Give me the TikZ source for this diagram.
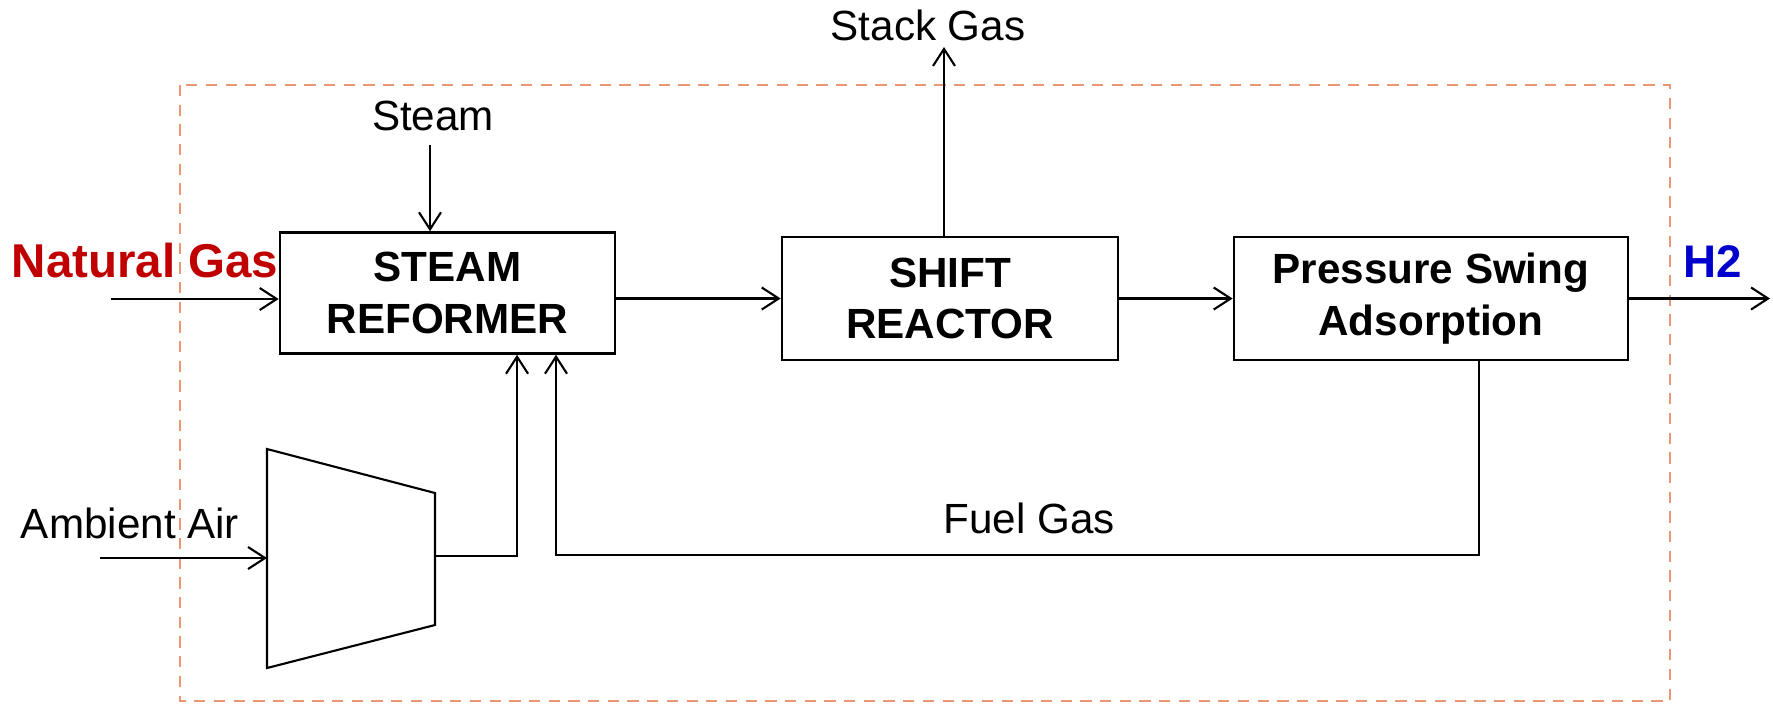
\documentclass[tikz,border=0pt]{standalone}
\usepackage{fontspec}
\setmainfont{Liberation Sans}
\usetikzlibrary{arrows.meta}
\definecolor{boundary}{RGB}{233,152,115}
\definecolor{feedred}{RGB}{192,0,0}
\definecolor{productblue}{RGB}{0,0,204}

\begin{document}
\begin{tikzpicture}[x=0.01cm,y=-0.01cm,
  unit/.style={draw,line width=.7pt,inner sep=0pt,align=center,
    font=\fontsize{12}{14.7}\selectfont\bfseries},
  stream/.style={inner sep=0pt,font=\fontsize{12}{14}\selectfont},
  feed/.style={inner sep=0pt,font=\fontsize{13.5}{16}\selectfont\bfseries},
  flow/.style={line width=.6pt,-{Straight Barb[length=1.7mm,width=2.2mm]}}]
  \useasboundingbox (0,0) rectangle (1773,705);
  % battery limit
  \draw[boundary,line width=.8pt,dash pattern=on 3.2pt off 2.4pt] (180,85) rectangle (1670,701);
  %
  \node[unit,minimum width=3.35cm,minimum height=1.21cm] (sr) at (447.5,293) {STEAM\\REFORMER};
  \node[unit,minimum width=3.36cm,minimum height=1.23cm] (shift) at (950,298.5) {SHIFT\\REACTOR};
  \node[unit,minimum width=3.94cm,minimum height=1.23cm] (psa) at (1431,298.5) {Pressure Swing\\Adsorption};
  % air compressor
  \draw[line width=.6pt] (267,449) -- (435,493) -- (435,625) -- (267,668) -- cycle;
  \coordinate (compin) at (267,558);
  \coordinate (compout) at (435,556);
  %
  \node[feed,text=feedred] (ng) at (145,261) {Natural Gas};
  \node[feed,font=\fontsize{13}{16}\selectfont\bfseries,text=productblue] (h2) at (1713,262) {H2};
  \node[stream] (steam) at (433,116) {Steam};
  \node[stream] (stack) at (928,25) {Stack Gas};
  \node[stream] (air) at (130,523) {Ambient Air};
  \node[stream] (fuel) at (1029,518) {Fuel Gas};
  %
  \coordinate (ngin) at (111,299);
  \coordinate (steamin) at (430,145);
  \coordinate (stackout) at (944,47);
  \coordinate (h2out) at (1770,298.5);
  \coordinate (airin) at (100,558);
  \coordinate (fuelcorner) at (556,555);
  %
  \draw[flow] (ngin) -- (ngin -| sr.west);
  \draw[flow] (steamin) -- (steamin |- sr.north);
  \draw[flow] (sr.east |- shift.west) -- (shift.west);
  \draw[flow] (shift.east) -- (psa.west);
  \draw[flow] (psa.east) -- (h2out);
  \draw[flow] (stackout |- shift.north) -- (stackout);
  \draw[flow] (airin) -- (compin);
  \draw[flow] (compout) -| ([xshift=.695cm]sr.south);
  \draw[flow] ([xshift=.48cm]psa.south) |- (fuelcorner) -- (fuelcorner |- sr.south);
\end{tikzpicture}
\end{document}
